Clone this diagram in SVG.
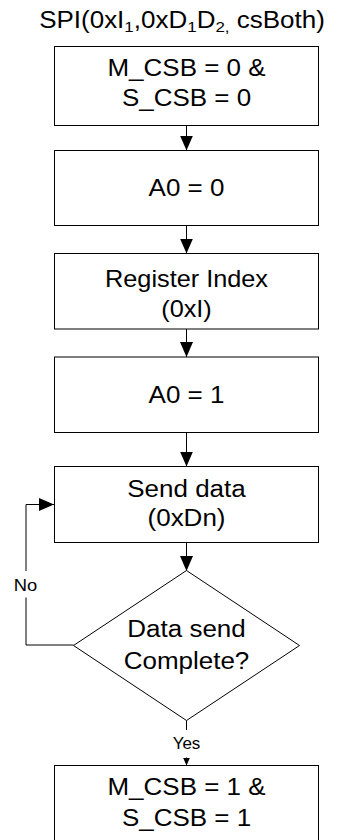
<svg xmlns="http://www.w3.org/2000/svg" width="337" height="840" viewBox="0 0 337 840">
<defs>
<style>
.box{fill:#fff;stroke:#000;stroke-width:1}
.ln{fill:none;stroke:#000;stroke-width:1}
.t{font-family:"Liberation Sans",Arial,sans-serif;font-size:23px;fill:#000;text-anchor:middle}
.s{font-family:"Liberation Sans",Arial,sans-serif;font-size:17px;fill:#000;text-anchor:middle}
</style>
<marker id="ah" markerUnits="userSpaceOnUse" markerWidth="15" markerHeight="13" refX="15" refY="6.5" orient="auto" viewBox="0 0 15 13">
<path d="M0,0 L15,6.5 L0,13 z" fill="#000"/>
</marker>
<marker id="ahs" markerUnits="userSpaceOnUse" markerWidth="8" markerHeight="7" refX="8" refY="3.5" orient="auto" viewBox="0 0 8 7">
<path d="M0,0 L8,3.5 L0,7 z" fill="#000"/>
</marker>
</defs>
<rect width="337" height="840" fill="#fff"/>

<g id="title">
<text class="t" transform="translate(182,27.5) scale(1.13,1)">SPI(0xI<tspan font-size="15" dy="4">1</tspan><tspan dy="-4">,0xD</tspan><tspan font-size="15" dy="4">1</tspan><tspan dy="-4">D</tspan><tspan font-size="15" dy="4">2,</tspan><tspan dy="-4"> csBoth)</tspan></text>
</g>

<g id="connectors">
<line class="ln" x1="186.5" y1="126" x2="186.5" y2="150.5" marker-end="url(#ah)"/>
<line class="ln" x1="186.5" y1="226" x2="186.5" y2="253.5" marker-end="url(#ah)"/>
<line class="ln" x1="186.5" y1="329" x2="186.5" y2="357" marker-end="url(#ah)"/>
<line class="ln" x1="186.5" y1="433" x2="186.5" y2="466.5" marker-end="url(#ah)"/>
<line class="ln" x1="186.5" y1="543" x2="186.5" y2="571" marker-end="url(#ah)"/>
<line class="ln" x1="186.5" y1="720.5" x2="186.5" y2="730"/>
<line class="ln" x1="186.5" y1="757.5" x2="186.5" y2="765.5" marker-end="url(#ahs)"/>
<path class="ln" d="M73.5,645 H26 V597.5"/>
<path class="ln" d="M26,571 V504.5 H54" marker-end="url(#ah)"/>
<text class="s" transform="translate(25.5,590.5) scale(1.08,1)">No</text>
<text class="s" transform="translate(186.5,749) scale(1,1)">Yes</text>
</g>

<g id="n1">
<rect class="box" x="54.5" y="46.5" width="264" height="79"/>
<text class="t" transform="translate(186.5,76) scale(1.13,1)">M_CSB = 0 &amp;</text>
<text class="t" transform="translate(186.5,106) scale(1.13,1)">S_CSB = 0</text>
</g>

<g id="n2">
<rect class="box" x="54.5" y="150.5" width="264" height="75"/>
<text class="t" transform="translate(186.5,196.3) scale(1.13,1)">A0 = 0</text>
</g>

<g id="n3">
<rect class="box" x="54.5" y="253.5" width="264" height="75.5"/>
<text class="t" transform="translate(186.5,286.5) scale(1.1,1)">Register Index</text>
<text class="t" transform="translate(186.5,317) scale(1.1,1)">(0xI)</text>
</g>

<g id="n4">
<rect class="box" x="54.5" y="357" width="264" height="75.5"/>
<text class="t" transform="translate(186.5,403) scale(1.13,1)">A0 = 1</text>
</g>

<g id="n5">
<rect class="box" x="54.5" y="466.5" width="264" height="76"/>
<text class="t" transform="translate(186.5,497) scale(1.13,1)">Send data</text>
<text class="t" transform="translate(186.5,525.5) scale(1.13,1)">(0xDn)</text>
</g>

<g id="n6">
<polygon class="box" points="186.5,570.5 299.5,645.5 186.5,720.5 73.5,645.5"/>
<text class="t" transform="translate(186.5,637.3) scale(1.13,1)">Data send</text>
<text class="t" transform="translate(186.5,669.3) scale(1.13,1)">Complete?</text>
</g>

<g id="n7">
<rect class="box" x="54.5" y="765.5" width="264" height="100"/>
<text class="t" transform="translate(186.5,795) scale(1.13,1)">M_CSB = 1 &amp;</text>
<text class="t" transform="translate(186.5,826) scale(1.13,1)">S_CSB = 1</text>
</g>
</svg>
